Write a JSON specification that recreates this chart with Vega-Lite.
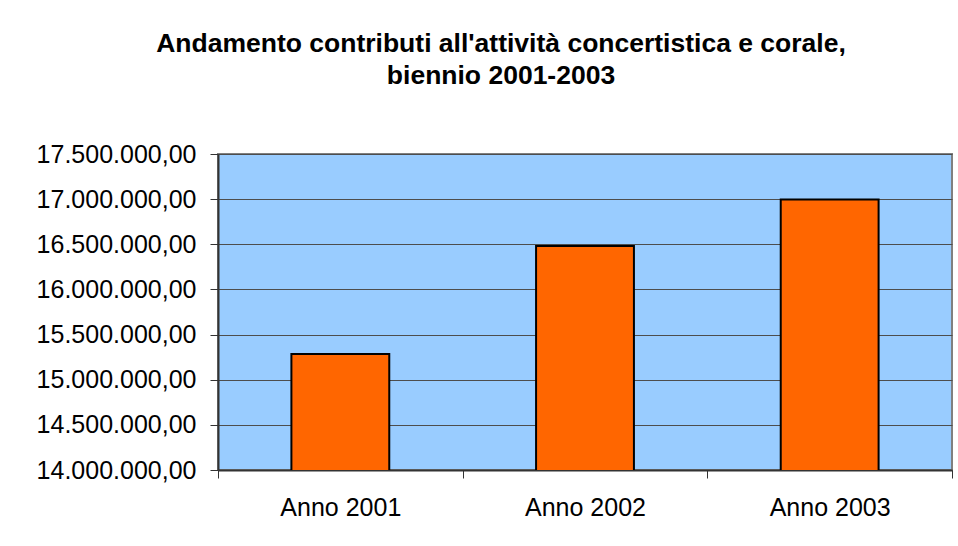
{
  "$schema": "https://vega.github.io/schema/vega-lite/v6.json",
  "autosize": "none",
  "width": 734,
  "height": 316,
  "padding": {"left": 218, "top": 154, "right": 6, "bottom": 76},
  "background": "white",
  "title": {
    "text": ["Andamento contributi all'attività concertistica e corale,", "biennio 2001-2003"],
    "font": "Liberation Sans",
    "fontSize": 26.5,
    "fontWeight": "bold",
    "color": "black",
    "anchor": "middle",
    "frame": "group",
    "dx": -84,
    "offset": 53,
    "lineHeight": 32
  },
  "config": {
    "locale": {
      "number": {"decimal": ",", "thousands": ".", "grouping": [3], "currency": ["€", ""]}
    },
    "view": {"fill": "#99CCFF", "stroke": "#808080", "strokeWidth": 2}
  },
  "data": {
    "values": [
      {"anno": "Anno 2001", "contributo": 15285000},
      {"anno": "Anno 2002", "contributo": 16480000},
      {"anno": "Anno 2003", "contributo": 16995000}
    ]
  },
  "mark": {"type": "bar", "fill": "#FF6600", "stroke": "black", "strokeWidth": 2, "width": {"band": 0.4}, "clip": true},
  "encoding": {
    "x": {
      "field": "anno",
      "type": "nominal",
      "sort": null,
      "scale": {"paddingInner": 0, "paddingOuter": 0},
      "axis": {
        "title": null,
        "labelAngle": 0,
        "labelFont": "Liberation Sans",
        "labelFontSize": 25,
        "labelColor": "black",
        "labelPadding": 17,
        "tickBand": "extent",
        "tickSize": 8,
        "tickColor": "#333333",
        "domainColor": "#333333",
        "domainWidth": 2,
        "grid": false
      }
    },
    "y": {
      "field": "contributo",
      "type": "quantitative",
      "scale": {"domain": [14000000, 17500000], "zero": false, "nice": false},
      "axis": {
        "title": null,
        "values": [14000000, 14500000, 15000000, 15500000, 16000000, 16500000, 17000000, 17500000],
        "format": ",.2f",
        "labelFont": "Liberation Sans",
        "labelFontSize": 25,
        "labelColor": "black",
        "labelPadding": 14,
        "tickSize": 8,
        "tickColor": "#333333",
        "domainColor": "#333333",
        "domainWidth": 2,
        "grid": true,
        "gridColor": "#4d4d4d",
        "gridWidth": 1.2
      }
    }
  }
}
